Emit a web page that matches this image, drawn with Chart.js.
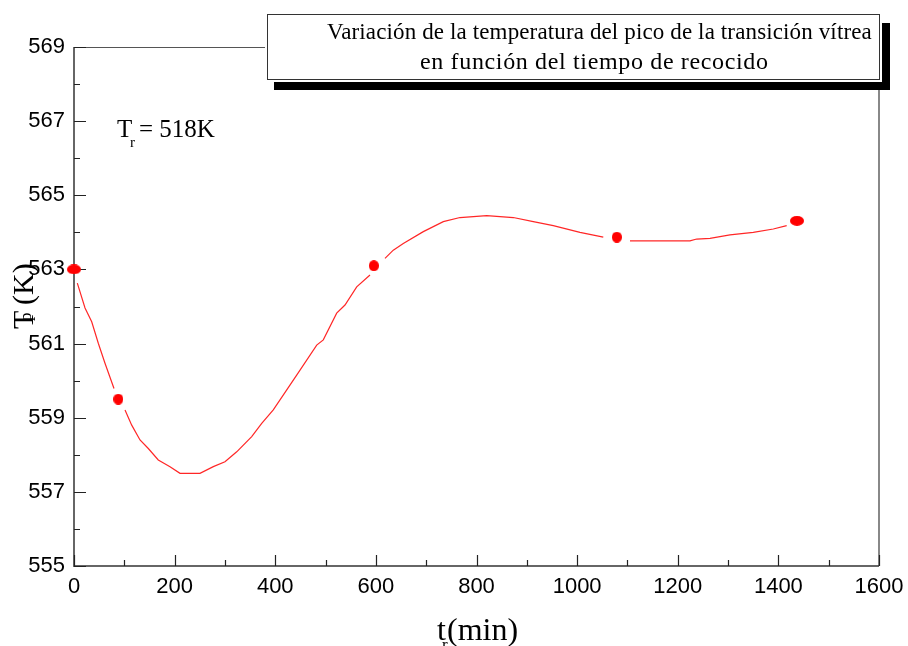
<!DOCTYPE html>
<html>
<head>
<meta charset="utf-8">
<script src="https://cdn.jsdelivr.net/npm/chart.js@4.4.1/dist/chart.umd.min.js"></script>
<style>
  html, body { margin: 0; padding: 0; background: #fff; }
  #wrap { width: 908px; height: 646px; }
</style>
</head>
<body>
<div id="wrap"><canvas id="chart" width="908" height="646"></canvas></div>
<script>
// measured glass transition peak Tp (K) against annealing time tr (min)
const annealTimes = [0, 88, 596, 1079, 1437];
const peakTemps = [563.0, 559.5, 563.1, 563.87, 564.31];

// fitted curve through the measurements; null leaves a gap around a marker
const curveTimes = [6.6, 21.9, 35.2, 48.3, 61.6, 79.5, 88, 101.4, 114.7, 131.2, 147.7, 167.5, 190.8,
  210.7, 250.4, 276.9, 300.1, 323.4, 353.2, 373.1, 396.1, 442.6, 482.4, 495.5, 522.1, 538.6,
  561.9, 588.3, 596, 618.1, 634.6, 654.5, 694.3, 734.0, 767.2, 820.3, 873.1, 912.9, 952.6,
  1005.7, 1052.0, 1079, 1105.1, 1224.3, 1237.6, 1264.1, 1303.8, 1350.1, 1389.9, 1416.5];
const curveTemps = [562.63, 561.96, 561.59, 561.01, 560.47, 559.79, null, 559.21, 558.80, 558.40,
  558.17, 557.86, 557.68, 557.50, 557.50, 557.68, 557.81, 558.08, 558.49, 558.85, 559.21, 560.15,
  560.96, 561.10, 561.82, 562.04, 562.53, 562.85, null, 563.30, 563.52, 563.70, 564.02, 564.29,
  564.40, 564.45, 564.40, 564.29, 564.18, 564.00, 563.87, null, 563.77, 563.77, 563.82, 563.84,
  563.93, 564.00, 564.09, 564.18];

const xTicks = [0, 200, 400, 600, 800, 1000, 1200, 1400, 1600];
const yTicks = [555, 557, 559, 561, 563, 565, 567, 569];

const titleLines = ['Variación de la temperatura del pico de la transición vítrea',
  'en función del tiempo de recocido'];

const RED = '#ff0000';
const SANS = '"Liberation Sans", Arial, sans-serif';
const SERIF = '"Liberation Serif", "Times New Roman", serif';

function ellipseMark(w, h) {
  const c = document.createElement('canvas');
  c.width = w; c.height = h;
  const g = c.getContext('2d');
  g.fillStyle = RED;
  g.beginPath();
  g.ellipse(w / 2, h / 2, w / 2, h / 2, 0, 0, Math.PI * 2);
  g.fill();
  return c;
}
const roundMark = ellipseMark(10, 11);
const wideMark = ellipseMark(14, 10);

// minor ticks sit halfway between the labelled ones
function midpoints(arr) {
  const out = [];
  for (let i = 0; i < arr.length - 1; i++) out.push((arr[i] + arr[i + 1]) / 2);
  return out;
}

// draw text centred on cx, spread with letter spacing to a given width
function fillTextWidth(ctx, text, cx, y, width) {
  ctx.letterSpacing = '0px';
  const natural = ctx.measureText(text).width;
  const extra = (width - natural) / (text.length - 1);
  ctx.letterSpacing = extra.toFixed(2) + 'px';
  ctx.textAlign = 'left';
  ctx.fillText(text, cx - width / 2, y);
  ctx.letterSpacing = '0px';
}

const framePlugin = {
  id: 'frame',
  beforeDatasetsDraw(chart) {
    const { ctx, chartArea: a, scales: { x, y } } = chart;
    ctx.save();
    ctx.lineCap = 'butt';
    // top and right edges
    ctx.strokeStyle = '#555';
    ctx.lineWidth = 1;
    ctx.beginPath();
    ctx.moveTo(a.left, a.top + 0.5); ctx.lineTo(a.right, a.top + 0.5);
    ctx.stroke();
    ctx.strokeStyle = '#888';
    ctx.lineWidth = 2;
    ctx.beginPath();
    ctx.moveTo(a.right, a.top); ctx.lineTo(a.right, a.bottom);
    ctx.stroke();
    // axes
    ctx.strokeStyle = '#666';
    ctx.lineWidth = 2;
    ctx.beginPath();
    ctx.moveTo(a.left, a.top); ctx.lineTo(a.left, a.bottom + 1);
    ctx.stroke();
    ctx.strokeStyle = '#333';
    ctx.lineWidth = 1.5;
    ctx.beginPath();
    ctx.moveTo(a.left, a.bottom); ctx.lineTo(a.right, a.bottom);
    ctx.stroke();
    // inward ticks
    ctx.strokeStyle = '#222';
    ctx.lineWidth = 1.2;
    ctx.beginPath();
    xTicks.forEach(v => { const px = Math.round(x.getPixelForValue(v)) + 0.5; ctx.moveTo(px, a.bottom); ctx.lineTo(px, a.bottom - 11); });
    midpoints(xTicks).forEach(v => { const px = Math.round(x.getPixelForValue(v)) + 0.5; ctx.moveTo(px, a.bottom); ctx.lineTo(px, a.bottom - 6); });
    yTicks.forEach(v => { const py = Math.round(y.getPixelForValue(v)) + 0.5; ctx.moveTo(a.left, py); ctx.lineTo(a.left + 12, py); });
    midpoints(yTicks).forEach(v => { const py = Math.round(y.getPixelForValue(v)) + 0.5; ctx.moveTo(a.left, py); ctx.lineTo(a.left + 6, py); });
    ctx.stroke();
    ctx.restore();
  },
  afterDraw(chart) {
    const { ctx } = chart;
    ctx.save();
    // title box with drop shadow
    ctx.fillStyle = '#000';
    ctx.fillRect(274, 23, 616, 67);
    ctx.fillStyle = '#fff';
    ctx.fillRect(265, 13, 617, 69);
    ctx.strokeStyle = '#333';
    ctx.lineWidth = 1;
    ctx.strokeRect(267.5, 14.5, 612, 65);
    ctx.fillStyle = '#000';
    ctx.textBaseline = 'alphabetic';
    ctx.font = '23px ' + SERIF;
    fillTextWidth(ctx, titleLines[0], 599.5, 39, 545);
    ctx.font = '24px ' + SERIF;
    fillTextWidth(ctx, titleLines[1], 594, 69, 348);

    // annealing temperature note
    ctx.textAlign = 'left';
    ctx.font = '25px ' + SERIF;
    ctx.fillText('T', 117, 137);
    ctx.fillText('= 518K', 139, 137);
    ctx.font = '15px ' + SERIF;
    ctx.fillText('r', 130, 147);

    // x axis title
    ctx.font = '32px ' + SERIF;
    ctx.fillText('t', 437, 640);
    ctx.fillText('(min)', 447, 640);
    ctx.font = '17px ' + SERIF;
    ctx.fillText('r', 442, 650);

    // y axis title, rotated
    ctx.translate(33, 329);
    ctx.rotate(-Math.PI / 2);
    ctx.font = '30px ' + SERIF;
    ctx.fillText('T', 0, 0);
    ctx.fillText('(K)', 24, 0);
    ctx.font = '17px ' + SERIF;
    ctx.fillText('p', 8, -2);
    ctx.restore();
  }
};

new Chart(document.getElementById('chart'), {
  type: 'line',
  data: {
    datasets: [
      {
        label: 'ajuste',
        data: curveTimes.map((t, i) => ({ x: t, y: curveTemps[i] })),
        borderColor: 'rgba(255,0,0,0.85)',
        borderWidth: 1.2,
        pointRadius: 0,
        tension: 0,
        spanGaps: false
      },
      {
        label: 'Tp',
        data: annealTimes.map((t, i) => ({ x: t, y: peakTemps[i] })),
        showLine: false,
        pointStyle: ctx => (ctx.dataIndex === 0 || ctx.dataIndex === annealTimes.length - 1) ? wideMark : roundMark,
        pointRadius: 5,
        backgroundColor: RED,
        borderColor: RED
      }
    ]
  },
  options: {
    responsive: false,
    animation: false,
    events: [],
    clip: false,
    layout: { padding: { top: 47, right: 29, left: 0, bottom: 0 } },
    plugins: {
      legend: { display: false },
      tooltip: { enabled: false }
    },
    scales: {
      x: {
        type: 'linear',
        min: 0,
        max: 1600,
        afterBuildTicks: s => { s.ticks = xTicks.map(v => ({ value: v })); },
        afterFit: s => { s.height = 80; s.paddingLeft = 0; s.paddingRight = 0; },
        grid: { display: false, drawTicks: false },
        border: { display: false },
        ticks: { color: '#000', font: { family: SANS, size: 22 }, padding: 8, maxRotation: 0, autoSkip: false, callback: v => String(v) }
      },
      y: {
        type: 'linear',
        min: 555,
        max: 569,
        afterBuildTicks: s => { s.ticks = yTicks.map(v => ({ value: v })); },
        afterFit: s => { s.width = 74; s.paddingTop = 0; s.paddingBottom = 0; },
        grid: { display: false, drawTicks: false },
        border: { display: false },
        ticks: { color: '#000', font: { family: SANS, size: 22 }, padding: 9, autoSkip: false, callback: v => String(v) }
      }
    }
  },
  plugins: [framePlugin]
});
</script>
</body>
</html>
